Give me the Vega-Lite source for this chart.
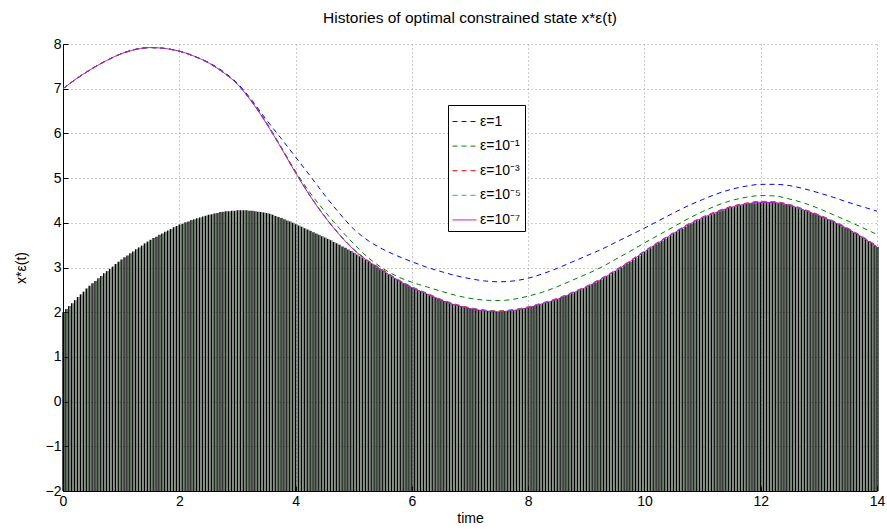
{
 "$schema": "https://vega.github.io/schema/vega-lite/v6.json",
 "width": 814, "height": 447,
 "autosize": "none",
 "padding": {"left": 63, "top": 44, "right": 10, "bottom": 39},
 "background": "white",
 "title": {"text": "Histories of optimal constrained state x*ε(t)", "fontSize": 15.5, "font": "Liberation Sans", "fontWeight": "normal", "anchor": "middle", "offset": 11, "color": "black"},
 "datasets": {
  "stripes": [
{"t":0,"c":2.00},{"t":0.05,"c":2.07},{"t":0.1,"c":2.14},{"t":0.15,"c":2.20},{"t":0.2,"c":2.27},
{"t":0.25,"c":2.34},{"t":0.3,"c":2.40},{"t":0.35,"c":2.46},{"t":0.4,"c":2.53},{"t":0.45,"c":2.59},
{"t":0.5,"c":2.65},{"t":0.55,"c":2.70},{"t":0.6,"c":2.76},{"t":0.65,"c":2.81},{"t":0.7,"c":2.87},
{"t":0.75,"c":2.92},{"t":0.8,"c":2.97},{"t":0.85,"c":3.02},{"t":0.9,"c":3.08},{"t":0.95,"c":3.13},
{"t":1,"c":3.18},{"t":1.05,"c":3.23},{"t":1.1,"c":3.27},{"t":1.15,"c":3.32},{"t":1.2,"c":3.36},
{"t":1.25,"c":3.41},{"t":1.3,"c":3.45},{"t":1.35,"c":3.49},{"t":1.4,"c":3.54},{"t":1.45,"c":3.58},
{"t":1.5,"c":3.62},{"t":1.55,"c":3.66},{"t":1.6,"c":3.69},{"t":1.65,"c":3.73},{"t":1.7,"c":3.76},
{"t":1.75,"c":3.80},{"t":1.8,"c":3.83},{"t":1.85,"c":3.86},{"t":1.9,"c":3.90},{"t":1.95,"c":3.93},
{"t":2,"c":3.96},{"t":2.05,"c":3.98},{"t":2.1,"c":4.01},{"t":2.15,"c":4.03},{"t":2.2,"c":4.06},
{"t":2.25,"c":4.08},{"t":2.3,"c":4.10},{"t":2.35,"c":4.12},{"t":2.4,"c":4.14},{"t":2.45,"c":4.16},
{"t":2.5,"c":4.18},{"t":2.55,"c":4.19},{"t":2.6,"c":4.21},{"t":2.65,"c":4.22},{"t":2.7,"c":4.24},
{"t":2.75,"c":4.25},{"t":2.8,"c":4.26},{"t":2.85,"c":4.26},{"t":2.9,"c":4.27},{"t":2.95,"c":4.27},
{"t":3,"c":4.28},{"t":3.05,"c":4.28},{"t":3.1,"c":4.28},{"t":3.15,"c":4.28},{"t":3.2,"c":4.27},
{"t":3.25,"c":4.27},{"t":3.3,"c":4.26},{"t":3.35,"c":4.25},{"t":3.4,"c":4.24},{"t":3.45,"c":4.23},
{"t":3.5,"c":4.22},{"t":3.55,"c":4.20},{"t":3.6,"c":4.18},{"t":3.65,"c":4.15},{"t":3.7,"c":4.13},
{"t":3.75,"c":4.11},{"t":3.8,"c":4.08},{"t":3.85,"c":4.05},{"t":3.9,"c":4.03},{"t":3.95,"c":4.00},
{"t":4,"c":3.97},{"t":4.05,"c":3.94},{"t":4.1,"c":3.91},{"t":4.15,"c":3.88},{"t":4.2,"c":3.85},
{"t":4.25,"c":3.82},{"t":4.3,"c":3.79},{"t":4.35,"c":3.76},{"t":4.4,"c":3.73},{"t":4.45,"c":3.70},
{"t":4.5,"c":3.67},{"t":4.55,"c":3.64},{"t":4.6,"c":3.61},{"t":4.65,"c":3.57},{"t":4.7,"c":3.54},
{"t":4.75,"c":3.51},{"t":4.8,"c":3.47},{"t":4.85,"c":3.44},{"t":4.9,"c":3.40},{"t":4.95,"c":3.37},
{"t":5,"c":3.33},{"t":5.05,"c":3.29},{"t":5.1,"c":3.25},{"t":5.15,"c":3.21},{"t":5.2,"c":3.17},
{"t":5.25,"c":3.13},{"t":5.3,"c":3.09},{"t":5.35,"c":3.05},{"t":5.4,"c":3.00},{"t":5.45,"c":2.96},
{"t":5.5,"c":2.92},{"t":5.55,"c":2.88},{"t":5.6,"c":2.84},{"t":5.65,"c":2.80},{"t":5.7,"c":2.76},
{"t":5.75,"c":2.72},{"t":5.8,"c":2.69},{"t":5.85,"c":2.65},{"t":5.9,"c":2.62},{"t":5.95,"c":2.58},
{"t":6,"c":2.55},{"t":6.05,"c":2.52},{"t":6.1,"c":2.49},{"t":6.15,"c":2.47},{"t":6.2,"c":2.44},
{"t":6.25,"c":2.41},{"t":6.3,"c":2.38},{"t":6.35,"c":2.35},{"t":6.4,"c":2.33},{"t":6.45,"c":2.30},
{"t":6.5,"c":2.27},{"t":6.55,"c":2.25},{"t":6.6,"c":2.23},{"t":6.65,"c":2.20},{"t":6.7,"c":2.18},
{"t":6.75,"c":2.16},{"t":6.8,"c":2.14},{"t":6.85,"c":2.13},{"t":6.9,"c":2.11},{"t":6.95,"c":2.10},
{"t":7,"c":2.08},{"t":7.05,"c":2.07},{"t":7.1,"c":2.06},{"t":7.15,"c":2.05},{"t":7.2,"c":2.04},
{"t":7.25,"c":2.03},{"t":7.3,"c":2.03},{"t":7.35,"c":2.02},{"t":7.4,"c":2.02},{"t":7.45,"c":2.01},
{"t":7.5,"c":2.01},{"t":7.55,"c":2.02},{"t":7.6,"c":2.02},{"t":7.65,"c":2.03},{"t":7.7,"c":2.03},
{"t":7.75,"c":2.04},{"t":7.8,"c":2.05},{"t":7.85,"c":2.06},{"t":7.9,"c":2.08},{"t":7.95,"c":2.09},
{"t":8,"c":2.10},{"t":8.05,"c":2.12},{"t":8.1,"c":2.14},{"t":8.15,"c":2.15},{"t":8.2,"c":2.17},
{"t":8.25,"c":2.19},{"t":8.3,"c":2.21},{"t":8.35,"c":2.23},{"t":8.4,"c":2.25},{"t":8.45,"c":2.27},
{"t":8.5,"c":2.29},{"t":8.55,"c":2.32},{"t":8.6,"c":2.34},{"t":8.65,"c":2.37},{"t":8.7,"c":2.39},
{"t":8.75,"c":2.42},{"t":8.8,"c":2.45},{"t":8.85,"c":2.48},{"t":8.9,"c":2.50},{"t":8.95,"c":2.53},
{"t":9,"c":2.56},{"t":9.05,"c":2.59},{"t":9.1,"c":2.63},{"t":9.15,"c":2.66},{"t":9.2,"c":2.70},
{"t":9.25,"c":2.73},{"t":9.3,"c":2.77},{"t":9.35,"c":2.81},{"t":9.4,"c":2.84},{"t":9.45,"c":2.88},
{"t":9.5,"c":2.92},{"t":9.55,"c":2.96},{"t":9.6,"c":3.00},{"t":9.65,"c":3.05},{"t":9.7,"c":3.09},
{"t":9.75,"c":3.13},{"t":9.8,"c":3.17},{"t":9.85,"c":3.22},{"t":9.9,"c":3.26},{"t":9.95,"c":3.31},
{"t":10,"c":3.35},{"t":10.05,"c":3.39},{"t":10.1,"c":3.43},{"t":10.15,"c":3.48},{"t":10.2,"c":3.52},
{"t":10.25,"c":3.56},{"t":10.3,"c":3.60},{"t":10.35,"c":3.64},{"t":10.4,"c":3.68},{"t":10.45,"c":3.72},
{"t":10.5,"c":3.76},{"t":10.55,"c":3.80},{"t":10.6,"c":3.84},{"t":10.65,"c":3.87},{"t":10.7,"c":3.91},
{"t":10.75,"c":3.95},{"t":10.8,"c":3.98},{"t":10.85,"c":4.01},{"t":10.9,"c":4.05},{"t":10.95,"c":4.08},
{"t":11,"c":4.11},{"t":11.05,"c":4.14},{"t":11.1,"c":4.16},{"t":11.15,"c":4.19},{"t":11.2,"c":4.21},
{"t":11.25,"c":4.24},{"t":11.3,"c":4.26},{"t":11.35,"c":4.28},{"t":11.4,"c":4.31},{"t":11.45,"c":4.33},
{"t":11.5,"c":4.35},{"t":11.55,"c":4.36},{"t":11.6,"c":4.38},{"t":11.65,"c":4.39},{"t":11.7,"c":4.41},
{"t":11.75,"c":4.42},{"t":11.8,"c":4.43},{"t":11.85,"c":4.44},{"t":11.9,"c":4.44},{"t":11.95,"c":4.45},
{"t":12,"c":4.46},{"t":12.05,"c":4.46},{"t":12.1,"c":4.46},{"t":12.15,"c":4.46},{"t":12.2,"c":4.45},
{"t":12.25,"c":4.45},{"t":12.3,"c":4.44},{"t":12.35,"c":4.43},{"t":12.4,"c":4.41},{"t":12.45,"c":4.40},
{"t":12.5,"c":4.39},{"t":12.55,"c":4.37},{"t":12.6,"c":4.35},{"t":12.65,"c":4.32},{"t":12.7,"c":4.30},
{"t":12.75,"c":4.28},{"t":12.8,"c":4.26},{"t":12.85,"c":4.23},{"t":12.9,"c":4.21},{"t":12.95,"c":4.18},
{"t":13,"c":4.16},{"t":13.05,"c":4.13},{"t":13.1,"c":4.10},{"t":13.15,"c":4.08},{"t":13.2,"c":4.05},
{"t":13.25,"c":4.02},{"t":13.3,"c":3.99},{"t":13.35,"c":3.96},{"t":13.4,"c":3.92},{"t":13.45,"c":3.89},
{"t":13.5,"c":3.86},{"t":13.55,"c":3.82},{"t":13.6,"c":3.78},{"t":13.65,"c":3.75},{"t":13.7,"c":3.71},
{"t":13.75,"c":3.67},{"t":13.8,"c":3.63},{"t":13.85,"c":3.59},{"t":13.9,"c":3.55},{"t":13.95,"c":3.50},
{"t":14,"c":3.46}
  ],
  "curves": [
{"t":0,"e0":7.00,"e1":7.00,"e3":7.00,"e5":7.00,"e7":7.00},
{"t":0.25,"e0":7.24,"e1":7.24,"e3":7.24,"e5":7.24,"e7":7.24},
{"t":0.5,"e0":7.45,"e1":7.45,"e3":7.45,"e5":7.45,"e7":7.45},
{"t":0.75,"e0":7.63,"e1":7.63,"e3":7.63,"e5":7.63,"e7":7.63},
{"t":1,"e0":7.78,"e1":7.78,"e3":7.78,"e5":7.78,"e7":7.78},
{"t":1.25,"e0":7.88,"e1":7.88,"e3":7.88,"e5":7.88,"e7":7.88},
{"t":1.5,"e0":7.92,"e1":7.92,"e3":7.92,"e5":7.92,"e7":7.92},
{"t":1.75,"e0":7.90,"e1":7.90,"e3":7.90,"e5":7.90,"e7":7.90},
{"t":2,"e0":7.84,"e1":7.84,"e3":7.84,"e5":7.84,"e7":7.84},
{"t":2.25,"e0":7.73,"e1":7.73,"e3":7.73,"e5":7.73,"e7":7.73},
{"t":2.5,"e0":7.59,"e1":7.58,"e3":7.58,"e5":7.58,"e7":7.58},
{"t":2.75,"e0":7.39,"e1":7.37,"e3":7.37,"e5":7.37,"e7":7.37},
{"t":3,"e0":7.12,"e1":7.10,"e3":7.10,"e5":7.10,"e7":7.10},
{"t":3.25,"e0":6.74,"e1":6.71,"e3":6.71,"e5":6.70,"e7":6.70},
{"t":3.5,"e0":6.30,"e1":6.24,"e3":6.23,"e5":6.22,"e7":6.22},
{"t":3.75,"e0":5.89,"e1":5.70,"e3":5.69,"e5":5.68,"e7":5.68},
{"t":4,"e0":5.47,"e1":5.15,"e3":5.13,"e5":5.12,"e7":5.12},
{"t":4.25,"e0":5.05,"e1":4.67,"e3":4.61,"e5":4.60,"e7":4.60},
{"t":4.5,"e0":4.62,"e1":4.26,"e3":4.15,"e5":4.14,"e7":4.14},
{"t":4.75,"e0":4.22,"e1":3.88,"e3":3.75,"e5":3.74,"e7":3.74},
{"t":5,"e0":3.86,"e1":3.53,"e3":3.41,"e5":3.40,"e7":3.40},
{"t":5.25,"e0":3.60,"e1":3.22,"e3":3.15,"e5":3.14,"e7":3.14},
{"t":5.5,"e0":3.41,"e1":2.98,"e3":2.95,"e5":2.94,"e7":2.93},
{"t":5.75,"e0":3.26,"e1":2.80,"e3":2.74,"e5":2.73,"e7":2.72},
{"t":6,"e0":3.13,"e1":2.67,"e3":2.57,"e5":2.56,"e7":2.55},
{"t":6.25,"e0":3.01,"e1":2.57,"e3":2.43,"e5":2.42,"e7":2.41},
{"t":6.5,"e0":2.91,"e1":2.47,"e3":2.29,"e5":2.28,"e7":2.27},
{"t":6.75,"e0":2.82,"e1":2.38,"e3":2.18,"e5":2.17,"e7":2.16},
{"t":7,"e0":2.75,"e1":2.31,"e3":2.10,"e5":2.09,"e7":2.08},
{"t":7.25,"e0":2.70,"e1":2.27,"e3":2.05,"e5":2.04,"e7":2.03},
{"t":7.5,"e0":2.68,"e1":2.26,"e3":2.03,"e5":2.02,"e7":2.01},
{"t":7.75,"e0":2.70,"e1":2.29,"e3":2.06,"e5":2.05,"e7":2.04},
{"t":8,"e0":2.76,"e1":2.36,"e3":2.12,"e5":2.11,"e7":2.10},
{"t":8.25,"e0":2.86,"e1":2.45,"e3":2.21,"e5":2.20,"e7":2.19},
{"t":8.5,"e0":2.98,"e1":2.57,"e3":2.31,"e5":2.30,"e7":2.29},
{"t":8.75,"e0":3.12,"e1":2.71,"e3":2.44,"e5":2.43,"e7":2.42},
{"t":9,"e0":3.26,"e1":2.85,"e3":2.58,"e5":2.57,"e7":2.56},
{"t":9.25,"e0":3.40,"e1":3.00,"e3":2.75,"e5":2.74,"e7":2.73},
{"t":9.5,"e0":3.56,"e1":3.18,"e3":2.94,"e5":2.93,"e7":2.92},
{"t":9.75,"e0":3.72,"e1":3.36,"e3":3.15,"e5":3.14,"e7":3.13},
{"t":10,"e0":3.88,"e1":3.55,"e3":3.37,"e5":3.36,"e7":3.35},
{"t":10.25,"e0":4.05,"e1":3.73,"e3":3.58,"e5":3.57,"e7":3.56},
{"t":10.5,"e0":4.22,"e1":3.91,"e3":3.78,"e5":3.77,"e7":3.76},
{"t":10.75,"e0":4.38,"e1":4.09,"e3":3.97,"e5":3.96,"e7":3.95},
{"t":11,"e0":4.52,"e1":4.25,"e3":4.13,"e5":4.12,"e7":4.11},
{"t":11.25,"e0":4.65,"e1":4.39,"e3":4.26,"e5":4.25,"e7":4.24},
{"t":11.5,"e0":4.75,"e1":4.50,"e3":4.37,"e5":4.36,"e7":4.35},
{"t":11.75,"e0":4.82,"e1":4.57,"e3":4.44,"e5":4.43,"e7":4.42},
{"t":12,"e0":4.86,"e1":4.61,"e3":4.48,"e5":4.47,"e7":4.46},
{"t":12.25,"e0":4.86,"e1":4.60,"e3":4.47,"e5":4.46,"e7":4.45},
{"t":12.5,"e0":4.83,"e1":4.53,"e3":4.41,"e5":4.40,"e7":4.39},
{"t":12.75,"e0":4.76,"e1":4.44,"e3":4.30,"e5":4.29,"e7":4.28},
{"t":13,"e0":4.67,"e1":4.32,"e3":4.18,"e5":4.17,"e7":4.16},
{"t":13.25,"e0":4.57,"e1":4.18,"e3":4.04,"e5":4.03,"e7":4.02},
{"t":13.5,"e0":4.46,"e1":4.04,"e3":3.88,"e5":3.87,"e7":3.86},
{"t":13.75,"e0":4.36,"e1":3.89,"e3":3.69,"e5":3.68,"e7":3.67},
{"t":14,"e0":4.26,"e1":3.74,"e3":3.48,"e5":3.47,"e7":3.46}
  ]
 },
 "encoding": {
  "x": {"field": "t", "type": "quantitative", "scale": {"domain": [0, 14], "nice": false, "zero": false},
        "axis": {"values": [0,2,4,6,8,10,12,14], "title": "time", "titlePadding": 3, "labelPadding": 8, "tickSize": -5, "labelFlush": false, "labelOverlap": false}}
 },
 "layer": [
  {"data": {"name": "stripes"}, "mark": {"type": "rule", "color": "black", "strokeWidth": 1.4},
   "encoding": {"y": {"field": "c", "type": "quantitative", "title": "x*ε(t)", "scale": {"domain": [-2, 8], "nice": false, "zero": false},
                      "axis": {"values": [-2,-1,0,1,2,3,4,5,6,7,8], "labelPadding": 7, "tickSize": -5, "titlePadding": 17, "labelOverlap": false}},
                "y2": {"datum": -2}}},
  {"data": {"name": "stripes"}, "mark": {"type": "rule", "color": "#2a452a", "strokeWidth": 0.8, "xOffset": 1.5},
   "encoding": {"y": {"field": "c", "type": "quantitative", "title": "x*ε(t)"}, "y2": {"datum": -2}}},
  {"data": {"name": "curves"},
   "transform": [{"fold": ["e0","e1","e3","e5","e7"], "as": ["eps", "x"]}],
   "mark": {"type": "line", "interpolate": "monotone"},
   "encoding": {
    "y": {"field": "x", "type": "quantitative", "title": "x*ε(t)"},
    "color": {"field": "eps", "type": "nominal",
      "scale": {"domain": ["e0","e1","e3","e5","e7"], "range": ["#0000ff","#008000","#ff0000","#00bfbf","#bf00bf"]},
      "legend": {"title": null, "orient": "none", "legendX": 385, "legendY": 61, "strokeColor": "black", "fillColor": "white", "padding": 4, "rowPadding": 4.6, "labelFontSize": 14, "labelFont": "Liberation Sans", "labelColor": "black", "symbolType": "stroke", "symbolSize": 576, "symbolStrokeWidth": 1.2, "labelOffset": 3,
        "labelExpr": "datum.label=='e0'?'ε=1':datum.label=='e1'?'ε=10⁻¹':datum.label=='e3'?'ε=10⁻³':datum.label=='e5'?'ε=10⁻⁵':'ε=10⁻⁷'"}},
    "strokeDash": {"field": "eps", "type": "nominal",
      "scale": {"domain": ["e0","e1","e3","e5","e7"], "range": [[5,4],[5,4],[5,4],[5,4],[1,0]]},
      "legend": {"title": null, "orient": "none", "legendX": 385, "legendY": 61, "strokeColor": "black", "fillColor": "white", "padding": 4, "rowPadding": 4.6, "labelFontSize": 14, "labelFont": "Liberation Sans", "labelColor": "black", "symbolType": "stroke", "symbolSize": 576, "symbolStrokeWidth": 1.2, "labelOffset": 3,
        "labelExpr": "datum.label=='e0'?'ε=1':datum.label=='e1'?'ε=10⁻¹':datum.label=='e3'?'ε=10⁻³':datum.label=='e5'?'ε=10⁻⁵':'ε=10⁻⁷'"}},
    "strokeWidth": {"field": "eps", "type": "nominal",
      "scale": {"domain": ["e0","e1","e3","e5","e7"], "range": [1,1,1,1,1.8]},
      "legend": null}
   }}
 ],
 "config": {
  "view": {"stroke": null},
  "axis": {"domainColor": "black", "domainWidth": 1, "tickColor": "black", "labelColor": "black", "labelFont": "Liberation Sans", "labelFontSize": 14,
           "titleFont": "Liberation Sans", "titleFontSize": 14, "titleFontWeight": "normal", "titleColor": "black",
           "gridColor": "#999999", "gridDash": [1, 3], "gridOpacity": 1, "gridWidth": 1}
 }
}
